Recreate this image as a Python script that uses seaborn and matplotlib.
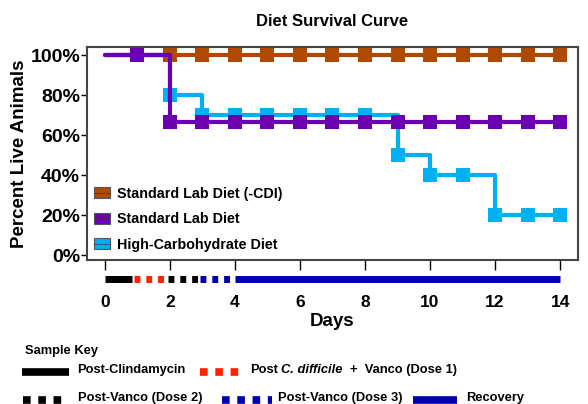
import numpy as np
import pandas as pd
import seaborn as sns
import matplotlib.pyplot as plt
from matplotlib.lines import Line2D
from matplotlib.patches import Patch

# survival data (percent alive per day)
days = list(range(15))
cdi_free = [100, 100, 100, 100, 100, 100, 100, 100, 100, 100, 100, 100, 100, 100, 100]
standard = [100, 100, 66.7, 66.7, 66.7, 66.7, 66.7, 66.7, 66.7, 66.7, 66.7, 66.7, 66.7, 66.7, 66.7]
high_carb = [100, 100, 80, 70, 70, 70, 70, 70, 70, 50, 40, 40, 20, 20, 20]

series_names = ["Standard Lab Diet (-CDI)", "High-Carbohydrate Diet", "Standard Lab Diet"]
series_values = [cdi_free, high_carb, standard]
series_colors = ["#b04a00", "#00b0f0", "#6c00b0"]
legend_order = ["Standard Lab Diet (-CDI)", "Standard Lab Diet", "High-Carbohydrate Diet"]

# sample key phases along the day axis
phase_names = ["Post-Clindamycin", "Post C. difficile + Vanco (Dose 1)",
               "Post-Vanco (Dose 2)", "Post-Vanco (Dose 3)", "Recovery"]
phase_start = [0, 0.9, 1.95, 2.92, 4.0]
phase_end = [0.83, 1.9, 2.9, 3.85, 14]
phase_colors = ["black", "#ff2200", "black", "#0000b0", "#0000b0"]
phase_dashed = [False, True, True, True, False]

sns.set_style("ticks")
plt.rcParams["font.family"] = ["Liberation Sans", "DejaVu Sans"]
plt.rcParams["font.weight"] = "bold"
for k in ["text.color", "axes.labelcolor", "xtick.color", "ytick.color"]:
    plt.rcParams[k] = "black"

W, H = 588, 404
fig = plt.figure(figsize=(W / 100, H / 100), dpi=100)


def fx(px):
    return px / W


def fy(py):
    return 1 - py / H


ax = fig.add_axes([fx(87), fy(260), fx(578) - fx(87), fy(47) - fy(260)])

df = pd.DataFrame({"day": days * 3,
                   "pct": sum(series_values, []),
                   "diet": sum([[n] * len(days) for n in series_names], [])})

for name, color in zip(series_names, series_colors):
    sub = df[df["diet"] == name]
    sns.lineplot(data=sub, x="day", y="pct", ax=ax, color=color, lw=3,
                 drawstyle="steps-post", marker="s", markersize=10.5,
                 markeredgewidth=0, markevery=slice(1, None), legend=False)

ax.set_xlim(-0.55, 14.55)
ax.set_ylim(-2.5, 104)
ax.set_xticks(range(0, 15, 2))
ax.set_yticks(range(0, 101, 20))
ax.set_yticklabels([f"{v}%" for v in range(0, 101, 20)], fontsize=14, fontweight="bold")
ax.set_xticklabels([str(v) for v in range(0, 15, 2)], fontsize=12.5, fontweight="bold")
ax.tick_params(axis="x", length=7, width=1, pad=18)
ax.tick_params(axis="y", length=4, width=1, pad=1)
ax.set_xlabel("Days", fontsize=13.5, fontweight="bold", labelpad=2)
ax.set_ylabel("Percent Live Animals", fontsize=13.5, fontweight="bold", labelpad=2)
ax.set_title("Diet Survival Curve", fontsize=12, fontweight="bold", pad=15)
for s in ax.spines.values():
    s.set_color("#444444")
    s.set_linewidth(1.5)

handles = []
for name in legend_order:
    c = series_colors[series_names.index(name)]
    handles.append((Patch(facecolor=c, edgecolor="#555555", lw=0.8),
                    Line2D([], [], color="#333333", lw=0.8, alpha=0.6)))
ax.legend(handles, legend_order, loc="lower left", frameon=False,
          prop={"size": 10.3, "weight": "bold"}, handlelength=1.1, handleheight=0.8,
          handletextpad=0.5, labelspacing=0.8, borderaxespad=0.25,
          bbox_to_anchor=(-0.005, -0.005))

# sample timeline bar under the axis
axb = fig.add_axes([fx(87), fy(284), fx(578) - fx(87), fy(274) - fy(284)], sharex=ax)
axb.axis("off")
for s0, s1, c, d in zip(phase_start, phase_end, phase_colors, phase_dashed):
    if d:
        axb.plot([s0, s1], [0, 0], color=c, lw=5, ls=(0, (0.85, 0.85)),
                 dash_capstyle="butt")
    else:
        axb.plot([s0, s1], [0, 0], color=c, lw=5, solid_capstyle="butt")
axb.set_ylim(-1, 1)

# sample key
fig.text(fx(25), fy(351), "Sample Key", fontsize=9.3, fontweight="bold", va="center")
key_rows = [
    (0, 22, 69, 370, 77),
    (1, 200, 240, 370, 250),
    (2, 23, 62, 398, 78),
    (3, 222, 272, 398, 278),
    (4, 413, 457, 398, 466),
]
for i, x0, x1, y, tx in key_rows:
    ls = (0, (1, 1)) if phase_dashed[i] else "-"
    fig.add_artist(Line2D([fx(x0), fx(x1)], [fy(y + 2), fy(y + 2)], color=phase_colors[i],
                          lw=5.5, ls=ls, solid_capstyle="butt", dash_capstyle="butt"))
    if i == 1:
        fig.text(fx(tx), fy(y), "Post", fontsize=9.3, fontweight="bold", va="center")
        fig.text(fx(281), fy(y), "C. difficile", fontsize=9.3, fontweight="bold",
                 style="italic", va="center")
        fig.text(fx(350), fy(y), "+  Vanco (Dose 1)", fontsize=9.3, fontweight="bold",
                 va="center")
    else:
        fig.text(fx(tx), fy(y), phase_names[i], fontsize=9.3, fontweight="bold", va="center")

fig.savefig("out.png", dpi=100)
